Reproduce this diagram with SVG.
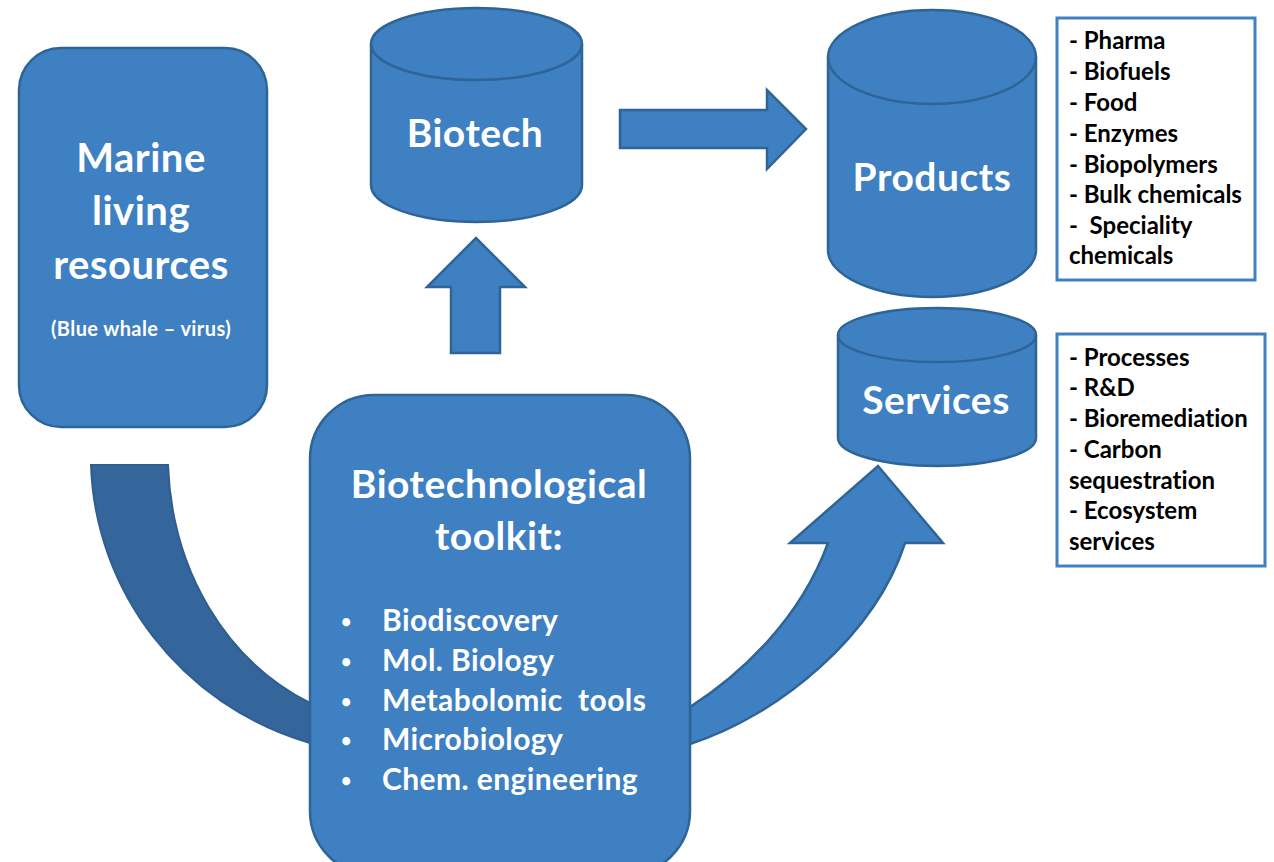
<svg xmlns="http://www.w3.org/2000/svg" width="1274" height="862" viewBox="0 0 1274 862">
<style>
.s{fill:#3e80c1;stroke:#2f6496;stroke-width:2.5}
.t{fill:#fff;font-family:Lato,"Open Sans","Liberation Sans",sans-serif;font-weight:700;text-anchor:middle;font-variant-ligatures:none}
.h{font-size:39px;letter-spacing:.5px}
.b{font-size:30px;letter-spacing:.4px;text-anchor:start}
.d{font-size:18px;text-anchor:start}
.k{fill:#000;font-family:Lato,"Open Sans","Liberation Sans",sans-serif;font-weight:700;font-size:24px;font-variant-ligatures:none}
.box{fill:#fff;stroke:#3e80c1;stroke-width:3}
.c{fill:none;stroke:#2f6496;stroke-width:2.5}
</style>
<rect width="1274" height="862" fill="#fff"/>
<g id="connectors">
<path d="M91 465H168C172 570 225 660 310 703V743C180 705 95 590 91 465Z" fill="#34659b" stroke="#2f5f90" stroke-width="2"/>
<path d="M690 707C740 675 800 620 828 543H790L878 466L943 543H905C875 635 780 715 690 744Z" class="s"/>
<path d="M451 353V287H427L476 238L525 287H500V353Z" class="s"/>
<path d="M620 110H767V90L806 129L767 169V148H620Z" class="s"/>
</g>
<g id="marine">
<rect x="19" y="48" width="248" height="379" rx="42" class="s"/>
<text class="t h" x="141" y="172" style="font-size:40px">Marine</text>
<text class="t h" x="141" y="225" style="font-size:40px">living</text>
<text class="t h" x="141" y="279" style="font-size:40px">resources</text>
<text class="t" x="141" y="336" font-size="20" letter-spacing=".4">(Blue whale – virus)</text>
</g>
<g id="biotech">
<path d="M371 44A105.500 36 0 0 1 582 44V185A105.500 37 0 0 1 371 185Z" class="s"/>
<path d="M371 44A105.500 36 0 0 0 582 44" class="c"/>
<text class="t h" x="475" y="147">Biotech</text>
</g>
<g id="products">
<path d="M828 57A104 47 0 0 1 1036 57V250A104 47 0 0 1 828 250Z" class="s"/>
<path d="M828 57A104 47 0 0 0 1036 57" class="c"/>
<text class="t h" x="932" y="191">Products</text>
</g>
<g id="services">
<path d="M838 335A99 27 0 0 1 1036 335V438A99 28 0 0 1 838 438Z" class="s"/>
<path d="M838 335A99 27 0 0 0 1036 335" class="c"/>
<text class="t h" x="936" y="414">Services</text>
</g>
<g id="toolkit">
<rect x="310" y="395" width="380" height="480" rx="64" class="s"/>
<text class="t h" x="499" y="498">Biotechnological</text>
<text class="t h" x="499" y="550">toolkit:</text>
<g class="t">
<text class="d" x="341" y="628">•</text><text class="b" x="382" y="631">Biodiscovery</text>
<text class="d" x="341" y="668">•</text><text class="b" x="382" y="671">Mol. Biology</text>
<text class="d" x="341" y="708">•</text><text class="b" x="382" y="711" xml:space="preserve">Metabolomic  tools</text>
<text class="d" x="341" y="747">•</text><text class="b" x="382" y="750">Microbiology</text>
<text class="d" x="341" y="787">•</text><text class="b" x="382" y="790">Chem. engineering</text>
</g>
</g>
<g id="products-list">
<rect x="1057" y="18" width="198" height="262" class="box"/>
<g class="k">
<text x="1069" y="49">- Pharma</text>
<text x="1069" y="80">- Biofuels</text>
<text x="1069" y="111">- Food</text>
<text x="1069" y="142">- Enzymes</text>
<text x="1069" y="173">- Biopolymers</text>
<text x="1069" y="203">- Bulk chemicals</text>
<text x="1069" y="234" xml:space="preserve">-  Speciality</text>
<text x="1069" y="264">chemicals</text>
</g>
</g>
<g id="services-list">
<rect x="1057" y="334" width="208" height="232" class="box"/>
<g class="k">
<text x="1069" y="366">- Processes</text>
<text x="1069" y="396">- R&amp;D</text>
<text x="1069" y="427">- Bioremediation</text>
<text x="1069" y="458">- Carbon</text>
<text x="1069" y="489">sequestration</text>
<text x="1069" y="519">- Ecosystem</text>
<text x="1069" y="550">services</text>
</g>
</g>
</svg>
